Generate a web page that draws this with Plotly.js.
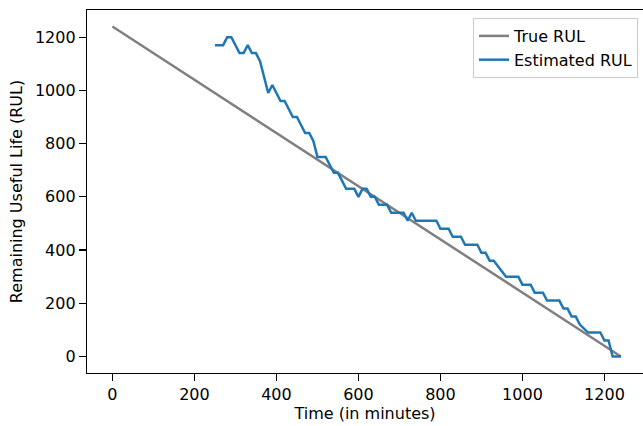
<!DOCTYPE html>
<html>
<head>
<meta charset="utf-8">
<script src="https://cdn.plot.ly/plotly-3.0.1.min.js"></script>
<style>html,body{margin:0;padding:0;background:#fff;}#chart{width:643px;height:426px;}</style>
</head>
<body>
<div id="chart"></div>
<script>
// True RUL
const trueTime = [0, 1240];
const trueRUL = [1240, 0];

// Estimated RUL (vertices)
const estTime = [250, 270, 280, 290, 310, 320, 330, 340, 350, 360, 380, 390, 410, 420, 440, 450, 470, 480, 490, 500, 520, 540, 550, 570, 590, 600, 610, 620, 630, 640, 650, 670, 680, 710, 720, 730, 740, 790, 800, 820, 830, 850, 860, 890, 900, 910, 920, 930, 945, 960, 990, 1000, 1020, 1030, 1050, 1060, 1090, 1100, 1110, 1120, 1130, 1140, 1160, 1190, 1200, 1210, 1220, 1240];
const estRUL = [1170, 1170, 1200, 1200, 1140, 1140, 1170, 1140, 1140, 1110, 990, 1020, 960, 960, 900, 900, 840, 840, 810, 750, 750, 690, 690, 630, 630, 600, 630, 630, 600, 600, 570, 570, 540, 540, 510, 540, 510, 510, 480, 480, 450, 450, 420, 420, 390, 390, 360, 360, 330, 300, 300, 270, 270, 240, 240, 210, 210, 180, 180, 150, 150, 120, 90, 90, 60, 60, 0, 0];

const xTicks = [0, 200, 400, 600, 800, 1000, 1200];
const yTicks = [0, 200, 400, 600, 800, 1000, 1200];

const traces = [
  {x: trueTime, y: trueRUL, type: 'scatter', mode: 'lines', name: 'True RUL',
   line: {color: '#808080', width: 2.5}},
  {x: estTime, y: estRUL, type: 'scatter', mode: 'lines', name: 'Estimated RUL',
   line: {color: '#1f77b4', width: 2.5}}
];

const fnt = {family: 'DejaVu Sans, sans-serif', size: 16, color: '#000'};

const layout = {
  width: 643, height: 426,
  margin: {l: 87, r: 0, t: 10, b: 53},
  paper_bgcolor: '#fff', plot_bgcolor: '#fff',
  font: fnt,
  showlegend: true,
  legend: {x: 0.991, y: 0.978, xanchor: 'right', yanchor: 'top',
           bgcolor: 'rgba(255,255,255,0.8)', bordercolor: '#cccccc', borderwidth: 1,
           tracegroupgap: 0,
           font: {family: 'DejaVu Sans, sans-serif', size: 16, color: '#000'}},
  xaxis: {range: [-62, 1294], tickvals: xTicks, ticktext: xTicks.map(String),
          showgrid: false, zeroline: false, showline: true, mirror: true,
          linecolor: '#000', linewidth: 1.2, ticks: 'outside', ticklen: 7, tickcolor: '#000', tickwidth: 1.2,
          tickfont: fnt,
          title: {text: 'Time (in minutes)', font: fnt, standoff: 4}},
  yaxis: {range: [-62, 1302], tickvals: yTicks, ticktext: yTicks.map(String),
          showgrid: false, zeroline: false, showline: true, mirror: false,
          linecolor: '#000', linewidth: 1.2, ticks: 'outside', ticklen: 7, tickcolor: '#000', tickwidth: 1.2,
          tickfont: fnt,
          title: {text: 'Remaining Useful Life (RUL)', font: fnt, standoff: 8}}
};

Plotly.newPlot('chart', traces, layout, {displayModeBar: false, staticPlot: true});
</script>
</body>
</html>
